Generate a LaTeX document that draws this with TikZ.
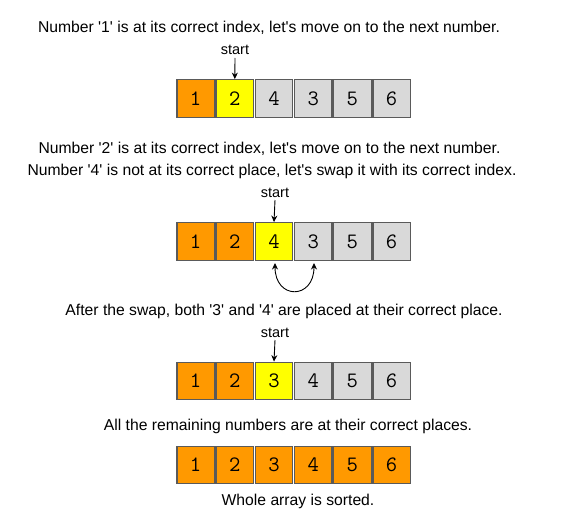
\documentclass[tikz,border=0pt]{standalone}
\usepackage{fontspec}
\newfontfamily\capfont{Liberation Sans}
\usetikzlibrary{arrows.meta}
\definecolor{cOrange}{HTML}{FF9900}
\definecolor{cYellow}{HTML}{FFFF00}
\definecolor{cGray}{HTML}{D9D9D9}
\definecolor{cBorder}{HTML}{5A5A5A}
\tikzset{
  cell/.style={draw=cBorder, line width=1.3pt, minimum width=37.5pt, minimum height=37.5pt, inner sep=0pt, font=\ttfamily\fontsize{22}{22}\selectfont},
  orange/.style={cell, fill=cOrange},
  yellow/.style={cell, fill=cYellow},
  gray/.style={cell, fill=cGray},
  caption/.style={font=\capfont\fontsize{15.7}{17}\selectfont, inner sep=0pt, anchor=base},
  startlbl/.style={font=\capfont\fontsize{14.5}{15}\selectfont, inner sep=0pt, anchor=base},
  arr/.style={-{Stealth[length=6.5pt,width=6pt]}, line width=0.9pt}
}
\begin{document}
\begin{tikzpicture}[x=1pt,y=-1pt]
\useasboundingbox (0,0) rectangle (569,516);
% row 1
\node[caption] (t1) at (269,33) {Number '1' is at its correct index, let's move on to the next number.};
\node[orange] (a1) at (195.6,98.5) {1};
\node[yellow] (a2) at (234.8,98.5) {2};
\node[gray] (a3) at (274.0,98.5) {4};
\node[gray] (a4) at (313.2,98.5) {3};
\node[gray] (a5) at (352.4,98.5) {5};
\node[gray] (a6) at (391.6,98.5) {6};
\node[startlbl] (s1) at (235,55) {start};
\coordinate (s1a) at (235,58);
\draw[arr] (s1a) -- (a2.north);
% row 2
\node[caption] (t2) at (269.5,153) {Number '2' is at its correct index, let's move on to the next number.};
\node[caption] (t3) at (272,175) {Number '4' is not at its correct place, let's swap it with its correct index.};
\node[orange] (b1) at (195.6,241.5) {1};
\node[orange] (b2) at (234.8,241.5) {2};
\node[yellow] (b3) at (274.0,241.5) {4};
\node[gray] (b4) at (313.2,241.5) {3};
\node[gray] (b5) at (352.4,241.5) {5};
\node[gray] (b6) at (391.6,241.5) {6};
\node[startlbl] (s2) at (275,197) {start};
\coordinate (s2a) at (275,200);
\draw[arr] (s2a) -- (b3.north);
\coordinate (sw1) at (275,263);
\coordinate (sw2) at (314,263);
\draw[{Stealth[length=6.5pt,width=6pt]}-{Stealth[length=6.5pt,width=6pt]}, line width=0.9pt]
  (sw1) .. controls (275,300) and (314,300) .. (sw2);
% row 3
\node[caption] (t4) at (284,315) {After the swap, both '3' and '4' are placed at their correct place.};
\node[orange] (c1) at (195.6,381) {1};
\node[orange] (c2) at (234.8,381) {2};
\node[yellow] (c3) at (274.0,381) {3};
\node[gray] (c4) at (313.2,381) {4};
\node[gray] (c5) at (352.4,381) {5};
\node[gray] (c6) at (391.6,381) {6};
\node[startlbl] (s3) at (275,337) {start};
\coordinate (s3a) at (275,340);
\draw[arr] (s3a) -- (c3.north);
% row 4
\node[caption] (t5) at (288,430) {All the remaining numbers are at their correct places.};
\node[orange] (d1) at (195.6,465) {1};
\node[orange] (d2) at (234.8,465) {2};
\node[orange] (d3) at (274.0,465) {3};
\node[orange] (d4) at (313.2,465) {4};
\node[orange] (d5) at (352.4,465) {5};
\node[orange] (d6) at (391.6,465) {6};
\node[caption] (t6) at (298,505) {Whole array is sorted.};
\end{tikzpicture}
\end{document}
